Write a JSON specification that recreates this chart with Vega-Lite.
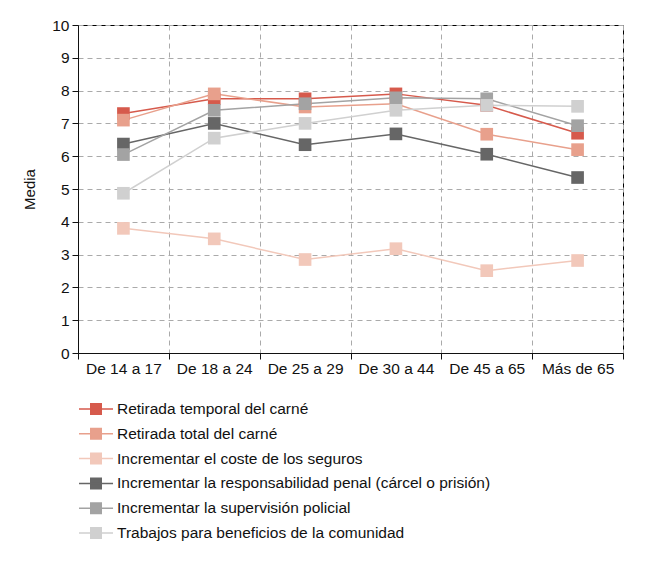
{
  "$schema": "https://vega.github.io/schema/vega-lite/v6.json",
  "width": 545,
  "height": 328,
  "padding": {"left": 22, "top": 18, "right": 22, "bottom": 5},
  "config": {
    "font": "Liberation Sans",
    "view": {"stroke": "#000", "strokeWidth": 1},
    "axis": {"labelFont": "Liberation Sans", "titleFont": "Liberation Sans", "labelColor": "#111", "titleColor": "#111", "domainColor": "#111", "tickColor": "#111", "labelFontSize": 15.5, "titleFontSize": 15, "titleFontWeight": "normal", "gridColor": "#aaaaaa", "gridDash": [5, 4], "gridWidth": 1}
  },
  "data": {
    "values": [
      {"series": "Retirada temporal del carné", "age": "De 14 a 17", "value": 7.3},
      {"series": "Retirada temporal del carné", "age": "De 18 a 24", "value": 7.75},
      {"series": "Retirada temporal del carné", "age": "De 25 a 29", "value": 7.75},
      {"series": "Retirada temporal del carné", "age": "De 30 a 44", "value": 7.9},
      {"series": "Retirada temporal del carné", "age": "De 45 a 65", "value": 7.55},
      {"series": "Retirada temporal del carné", "age": "Más de 65", "value": 6.7},
      {"series": "Retirada total del carné", "age": "De 14 a 17", "value": 7.1},
      {"series": "Retirada total del carné", "age": "De 18 a 24", "value": 7.9},
      {"series": "Retirada total del carné", "age": "De 25 a 29", "value": 7.5},
      {"series": "Retirada total del carné", "age": "De 30 a 44", "value": 7.6},
      {"series": "Retirada total del carné", "age": "De 45 a 65", "value": 6.67},
      {"series": "Retirada total del carné", "age": "Más de 65", "value": 6.2},
      {"series": "Incrementar el coste de los seguros", "age": "De 14 a 17", "value": 3.8},
      {"series": "Incrementar el coste de los seguros", "age": "De 18 a 24", "value": 3.48},
      {"series": "Incrementar el coste de los seguros", "age": "De 25 a 29", "value": 2.85},
      {"series": "Incrementar el coste de los seguros", "age": "De 30 a 44", "value": 3.18},
      {"series": "Incrementar el coste de los seguros", "age": "De 45 a 65", "value": 2.51},
      {"series": "Incrementar el coste de los seguros", "age": "Más de 65", "value": 2.82},
      {"series": "Incrementar la responsabilidad penal (cárcel o prisión)", "age": "De 14 a 17", "value": 6.37},
      {"series": "Incrementar la responsabilidad penal (cárcel o prisión)", "age": "De 18 a 24", "value": 7.0},
      {"series": "Incrementar la responsabilidad penal (cárcel o prisión)", "age": "De 25 a 29", "value": 6.35},
      {"series": "Incrementar la responsabilidad penal (cárcel o prisión)", "age": "De 30 a 44", "value": 6.68},
      {"series": "Incrementar la responsabilidad penal (cárcel o prisión)", "age": "De 45 a 65", "value": 6.06},
      {"series": "Incrementar la responsabilidad penal (cárcel o prisión)", "age": "Más de 65", "value": 5.35},
      {"series": "Incrementar la supervisión policial", "age": "De 14 a 17", "value": 6.05},
      {"series": "Incrementar la supervisión policial", "age": "De 18 a 24", "value": 7.4},
      {"series": "Incrementar la supervisión policial", "age": "De 25 a 29", "value": 7.6},
      {"series": "Incrementar la supervisión policial", "age": "De 30 a 44", "value": 7.78},
      {"series": "Incrementar la supervisión policial", "age": "De 45 a 65", "value": 7.75},
      {"series": "Incrementar la supervisión policial", "age": "Más de 65", "value": 6.93},
      {"series": "Trabajos para beneficios de la comunidad", "age": "De 14 a 17", "value": 4.87},
      {"series": "Trabajos para beneficios de la comunidad", "age": "De 18 a 24", "value": 6.55},
      {"series": "Trabajos para beneficios de la comunidad", "age": "De 25 a 29", "value": 7.0},
      {"series": "Trabajos para beneficios de la comunidad", "age": "De 30 a 44", "value": 7.4},
      {"series": "Trabajos para beneficios de la comunidad", "age": "De 45 a 65", "value": 7.55},
      {"series": "Trabajos para beneficios de la comunidad", "age": "Más de 65", "value": 7.52}
    ]
  },
  "encoding": {
    "x": {
      "field": "age", "type": "nominal",
      "sort": ["De 14 a 17", "De 18 a 24", "De 25 a 29", "De 30 a 44", "De 45 a 65", "Más de 65"],
      "scale": {"type": "band", "paddingInner": 0, "paddingOuter": 0},
      "axis": {"title": null, "tickBand": "extent", "labelAngle": 0, "grid": true, "tickSize": 6, "labelPadding": 2}
    },
    "y": {
      "field": "value", "type": "quantitative",
      "scale": {"domain": [0, 10], "nice": false},
      "axis": {"title": "Media", "values": [0, 1, 2, 3, 4, 5, 6, 7, 8, 9, 10], "grid": true, "tickSize": 6, "labelPadding": 3, "titlePadding": 14}
    },
    "color": {
      "field": "series", "type": "nominal",
      "scale": {
        "domain": ["Retirada temporal del carné", "Retirada total del carné", "Incrementar el coste de los seguros", "Incrementar la responsabilidad penal (cárcel o prisión)", "Incrementar la supervisión policial", "Trabajos para beneficios de la comunidad"],
        "range": ["#d65a4c", "#e8a08c", "#f2c8ba", "#666666", "#a3a3a3", "#d0d0d0"]
      }
    }
  },
  "layer": [
    {
      "mark": {"type": "line", "strokeWidth": 1.5},
      "encoding": {
        "color": {
          "field": "series", "type": "nominal",
          "legend": {
            "title": null, "orient": "bottom", "direction": "vertical", "columns": 1,
            "offset": 24, "labelFontSize": 15.5, "labelFont": "Liberation Sans", "labelColor": "#111", "labelLimit": 600,
            "symbolType": "M-1,0H3.86M0.68,-0.75H2.18V0.75H0.68Z",
            "symbolSize": 196, "symbolStrokeWidth": 1.5, "labelOffset": 23, "rowPadding": 6.8,
            "encode": {"symbols": {"update": {"fill": {"scale": "color", "field": "value"}, "stroke": {"scale": "color", "field": "value"}, "opacity": {"value": 1}}}}
          }
        }
      }
    },
    {
      "mark": {"type": "square", "size": 160, "filled": true, "opacity": 1},
      "encoding": {}
    }
  ]
}
